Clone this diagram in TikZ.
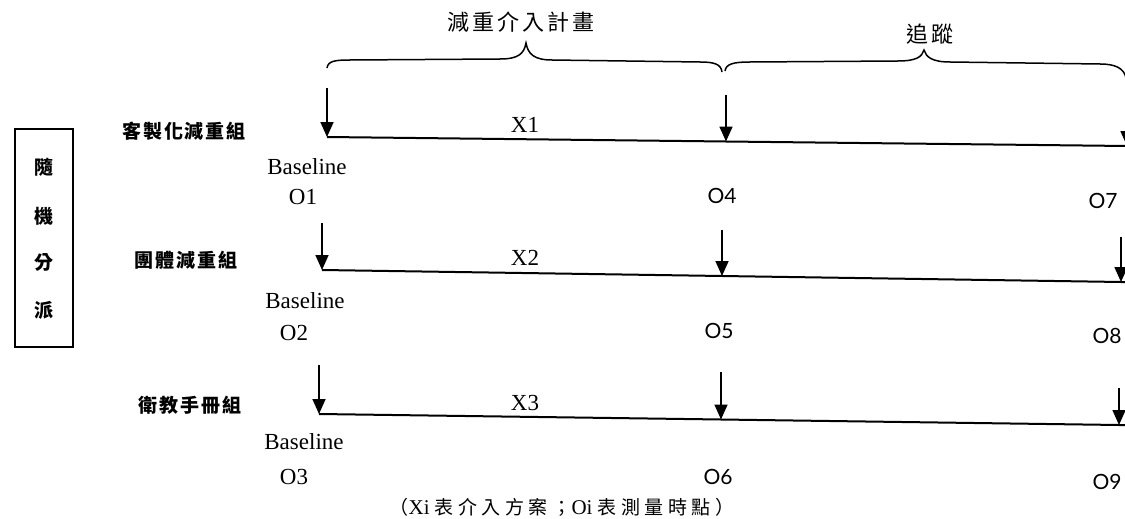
\documentclass[tikz,border=0pt]{standalone}
\usepackage{fontspec}
\setmainfont{Liberation Serif}
\newfontfamily\numfont{Lato}
\newfontfamily\cjkgrp[LetterSpace=10]{Noto Sans CJK TC}
\newfontfamily\cjktop[LetterSpace=14]{Noto Sans CJK TC}
\newfontfamily\cjkfn[LetterSpace=24]{Noto Sans CJK TC}
\newfontfamily\cjkbox{Noto Sans CJK TC}
\usetikzlibrary{arrows.meta}
\begin{document}
\begin{tikzpicture}[x=1pt,y=-1pt,
  lbl/.style={inner sep=0pt, font=\fontsize{23}{26}\selectfont},
  onum/.style={inner sep=0pt, font=\numfont\fontsize{21}{24}\selectfont},
  grp/.style={inner sep=0pt, font=\cjkgrp\bfseries\fontsize{19}{21}\selectfont},
  toplbl/.style={inner sep=0pt, font=\cjktop\fontsize{22}{24}\selectfont},
  boxch/.style={inner sep=0pt, font=\cjkbox\bfseries\fontsize{19}{21}\selectfont},
  tl/.style={line width=2pt},
  marker/.style={line width=1.7pt, -{Triangle[length=15pt,width=13pt]}},
  brace/.style={line width=1.5pt}
]
\useasboundingbox (0,0) rectangle (1125,519);
\clip (0,0) rectangle (1125,519);

% left box
\draw[line width=1.7pt] (15,129) rectangle (73,347);
\node[boxch] (c1) at (44,167) {隨};
\node[boxch] (c2) at (44,216) {機};
\node[boxch] (c3) at (44,262) {分};
\node[boxch] (c4) at (44,310) {派};

% braces
\draw[brace] (327,68) .. controls (328,61) and (335,60) .. (350,60) -- (500,59)
  .. controls (518,59) and (524,54) .. (526,43)
  .. controls (528,54) and (534,60) .. (552,60) -- (700,62)
  .. controls (714,62) and (721,64) .. (722,72);
\draw[brace] (725,71) .. controls (726,64) and (733,62) .. (750,62) -- (898,61)
  .. controls (916,61) and (922,57) .. (924,50)
  .. controls (926,57) and (932,62) .. (950,62) -- (1100,64)
  .. controls (1115,64) and (1124,68) .. (1126,78);
\node[toplbl] (t1) at (521,22) {減重介入計畫};
\node[toplbl] (t2) at (930,34) {追蹤};

% group labels
\node[grp] (g1) at (184,131) {客製化減重組};
\node[grp] (g2) at (186,260) {團體減重組};
\node[grp] (g3) at (190,405) {衛教手冊組};

% row 1
\coordinate (r1a) at (327,137);
\coordinate (r1b) at (726,141.5);
\coordinate (r1c) at (1127,146);
\coordinate (r1at) at (327,88);
\coordinate (r1bt) at (726,95);
\coordinate (r1ct) at (1127,100);
\draw[tl] (r1a) -- (r1b) -- (r1c);
\draw[marker] (r1at) -- (r1a);
\draw[marker] (r1bt) -- (r1b);
\draw[marker] (r1ct) -- (r1c);
\node[lbl] (x1) at (525,125) {X1};
\node[lbl] (b1) at (307,167) {Baseline};
\node[lbl] (o1) at (303,197) {O1};
\node[onum] (o4) at (722,196) {O4};
\node[onum] (o7) at (1103,201) {O7};

% row 2
\coordinate (r2a) at (322,270);
\coordinate (r2b) at (722,276);
\coordinate (r2c) at (1121,282);
\coordinate (r2at) at (322,223);
\coordinate (r2bt) at (722,230);
\coordinate (r2ct) at (1121,237);
\draw[tl] (r2a) -- (r2b) -- (r2c) -- (1125,282);
\draw[marker] (r2at) -- (r2a);
\draw[marker] (r2bt) -- (r2b);
\draw[marker] (r2ct) -- (r2c);
\node[lbl] (x2) at (525,258) {X2};
\node[lbl] (b2) at (305,301) {Baseline};
\node[lbl] (o2) at (294,333) {O2};
\node[onum] (o5) at (719,331) {O5};
\node[onum] (o8) at (1107,336) {O8};

% row 3
\coordinate (r3a) at (319,414);
\coordinate (r3b) at (721,419.5);
\coordinate (r3c) at (1119,425);
\coordinate (r3at) at (319,365);
\coordinate (r3bt) at (721,372);
\coordinate (r3ct) at (1119,388);
\draw[tl] (r3a) -- (r3b) -- (r3c) -- (1125,425);
\draw[marker] (r3at) -- (r3a);
\draw[marker] (r3bt) -- (r3b);
\draw[marker] (r3ct) -- (r3c);
\node[lbl] (x3) at (525,403) {X3};
\node[lbl] (b3) at (304,442) {Baseline};
\node[lbl] (o3) at (294,477) {O3};
\node[onum] (o6) at (718,477) {O6};
\node[onum] (o9) at (1107,482) {O9};

% footnote
\node[inner sep=0pt, anchor=base] (fn) at (562,514)
  {{\cjkfn\fontsize{19}{21}\selectfont （}{\fontsize{21}{23}\selectfont Xi\hspace{5pt}}{\cjkfn\fontsize{19}{21}\selectfont 表介入方案；}{\fontsize{21}{23}\selectfont Oi\hspace{5pt}}{\cjkfn\fontsize{19}{21}\selectfont 表測量時點）}};
\end{tikzpicture}
\end{document}
